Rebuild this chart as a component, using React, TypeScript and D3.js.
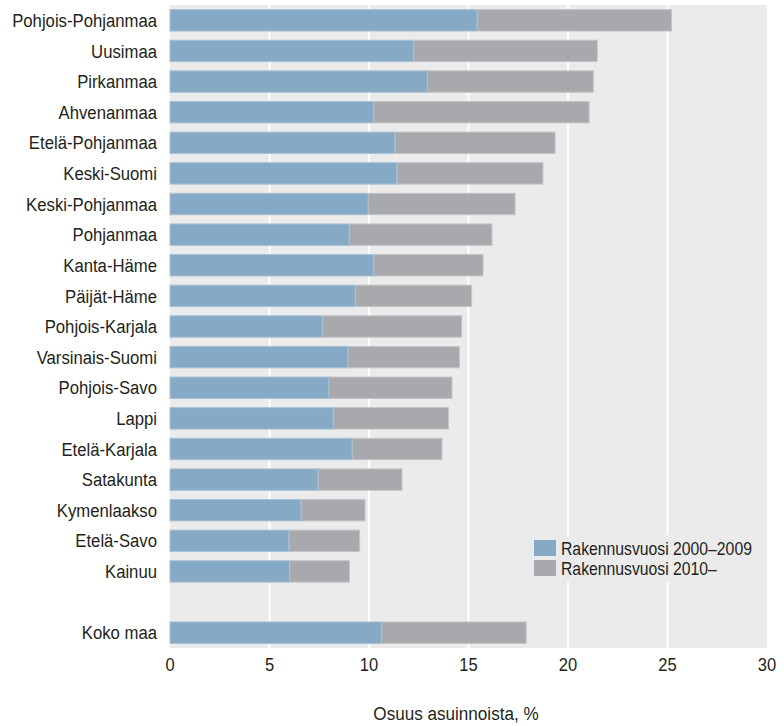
import React from "react";
import * as d3 from "d3";

const regions = [
  "Pohjois-Pohjanmaa", "Uusimaa", "Pirkanmaa", "Ahvenanmaa", "Etelä-Pohjanmaa",
  "Keski-Suomi", "Keski-Pohjanmaa", "Pohjanmaa", "Kanta-Häme", "Päijät-Häme",
  "Pohjois-Karjala", "Varsinais-Suomi", "Pohjois-Savo", "Lappi", "Etelä-Karjala",
  "Satakunta", "Kymenlaakso", "Etelä-Savo", "Kainuu", "", "Koko maa",
];
// share built 2000–2009
const built2000s = [
  15.43, 12.23, 12.93, 10.22, 11.3, 11.4, 9.95, 9.0, 10.22, 9.3,
  7.65, 8.94, 7.97, 8.2, 9.15, 7.44, 6.58, 5.97, 6.01, null, 10.62,
];
// share built 2010–
const built2010s = [
  9.77, 9.24, 8.34, 10.84, 8.05, 7.34, 7.39, 7.18, 5.51, 5.86,
  7.01, 5.6, 6.2, 5.8, 4.52, 4.22, 3.22, 3.56, 3.01, null, 7.28,
];
const xTicks = [0, 5, 10, 15, 20, 25, 30];
const seriesNames = ["Rakennusvuosi 2000–2009", "Rakennusvuosi 2010–"];
const colors = ["#86a9c5", "#a8a9ac"];
const axisTitle = "Osuus asuinnoista, %";

const FONT = "'Liberation Sans', Arial, sans-serif";
const FS = 19;

function T({ x, y, k, anchor, children, dy }: any) {
  return (
    <text transform={`translate(${x},${y}) scale(${k},1)`} dy={dy} textAnchor={anchor}
      fontSize={FS} fill="#231f20">
      {children}
    </text>
  );
}

export default function App() {
  const W = 784, H = 726;
  const x = d3.scaleLinear().domain([0, 30]).range([170, 767]);
  const y = d3.scaleBand<number>().domain(d3.range(regions.length)).range([5, 648])
    .paddingInner(0.3).paddingOuter(0.15);
  const bw = y.bandwidth();
  return (
    <svg width={W} height={H} style={{ position: "absolute", left: 0, top: 0 }} fontFamily={FONT}>
      <rect x={x(0)} y={5} width={x(30) - x(0)} height={643} fill="#ebebeb" />
      {xTicks.slice(1, -1).map((t) => (
        <line key={t} x1={x(t)} x2={x(t)} y1={5} y2={648} stroke="#fff" strokeWidth={2} />
      ))}
      {regions.map((r, i) => {
        const a = built2000s[i];
        const b = built2010s[i];
        const yy = y(i)!;
        return (
          <g key={i}>
            {r && (
              <T x={157} y={yy + bw / 2} dy="0.35em" anchor="end" k={0.88}>{r}</T>
            )}
            {a != null && b != null && (
              <>
                <rect x={x(a)} y={yy} width={x(a + b) - x(a)} height={bw} fill={colors[1]}
                  stroke="#c4c5c8" strokeWidth={1} />
                <rect x={x(0)} y={yy} width={x(a) - x(0)} height={bw} fill={colors[0]}
                  stroke="#a9c1d4" strokeWidth={1} />
              </>
            )}
          </g>
        );
      })}
      <rect x={527} y={535} width={240} height={47} fill="#ebebeb" />
      {seriesNames.map((s, i) => (
        <g key={s}>
          <rect x={534} y={540 + i * 20} width={22} height={16} fill={colors[i]} />
          <T x={561} y={548 + i * 20} dy="0.35em" anchor="start" k={0.83}>{s}</T>
        </g>
      ))}
      {xTicks.map((t) => (
        <T key={t} x={x(t)} y={671} anchor="middle" k={0.87}>{t}</T>
      ))}
      <T x={456} y={720} anchor="middle" k={0.9}>{axisTitle}</T>
    </svg>
  );
}
